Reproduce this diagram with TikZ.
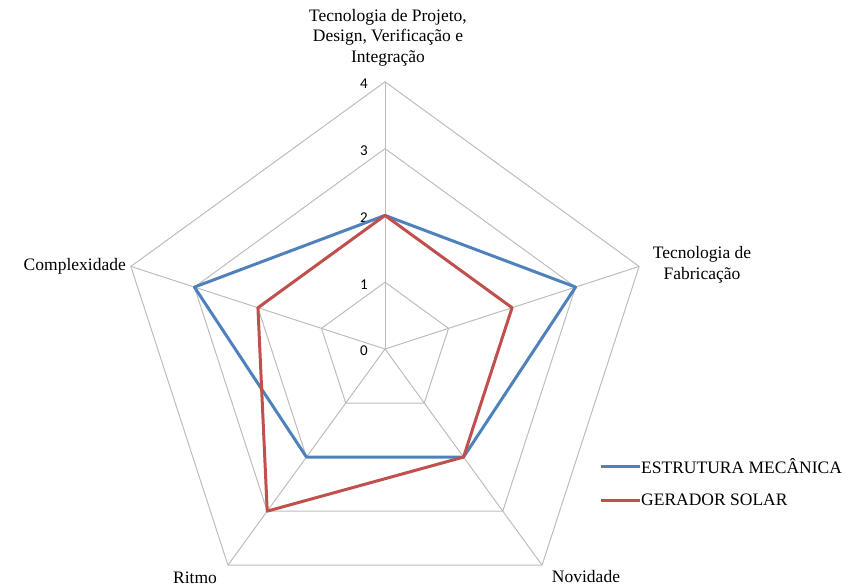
\documentclass[tikz,border=0pt]{standalone}
\usepackage{fontspec}
\usetikzlibrary{calc}
\setmainfont{Liberation Serif}
\newfontfamily\numfont{Carlito}
\definecolor{serA}{HTML}{4F81BD}
\definecolor{serB}{HTML}{C0504D}
\definecolor{gridc}{HTML}{BDBDBD}
\begin{document}
\begin{tikzpicture}[x=1pt,y=1pt,
  gridline/.style={draw=gridc, line width=1pt},
  seriesA/.style={draw=serA, line width=3pt, line join=round},
  seriesB/.style={draw=serB, line width=3pt, line join=round},
  axlabel/.style={font=\fontsize{17.5}{20.5}\selectfont, align=center, inner sep=0pt},
  numlabel/.style={font=\numfont\fontsize{15}{16}\selectfont, inner sep=0pt},
  leglabel/.style={font=\fontsize{17.5}{18}\selectfont, inner sep=0pt, anchor=west}]
\useasboundingbox (0,-587) rectangle (848,0);
\coordinate (c) at (385,-349);
\def\u{66.8}
% grid pentagons
\foreach \k in {1,2,3,4} {
  \draw[gridline] ($(c)+(90:\k*\u)$) -- ($(c)+(18:\k*\u)$) -- ($(c)+(-54:\k*\u)$) -- ($(c)+(-126:\k*\u)$) -- ($(c)+(162:\k*\u)$) -- cycle;
}
\foreach \a/\n in {90/t,18/r,-54/br,-126/bl,162/l} {
  \coordinate (v\n) at ($(c)+(\a:4*\u)$);
  \draw[gridline] (c) -- (v\n);
}
% numbers
\foreach \k in {0,1,2,3,4} {
  \node[numlabel, anchor=east] (n\k) at ($(c)+(-17,\k*\u-2)$) {\k};
}
% series A
\draw[seriesA] ($(c)+(90:2*\u)$) -- ($(c)+(18:3*\u)$) -- ($(c)+(-54:2*\u)$) -- ($(c)+(-126:2*\u)$) -- ($(c)+(162:3*\u)$) -- cycle;
% series B
\draw[seriesB] ($(c)+(90:2*\u)$) -- ($(c)+(18:2*\u)$) -- ($(c)+(-54:2*\u)$) -- ($(c)+(-126:3*\u)$) -- ($(c)+(162:2*\u)$) -- cycle;
% axis labels
\node[axlabel, anchor=south] (lt) at (388,-66) {Tecnologia de Projeto,\\Design, Verificação e\\Integração};
\node[axlabel] (lr) at (702,-265) {Tecnologia de\\Fabricação};
\node[axlabel, anchor=east] (ll) at (126,-266) {Complexidade};
\node[axlabel] (lbl) at (195,-578) {Ritmo};
\node[axlabel] (lbr) at (586,-577) {Novidade};
% legend
\coordinate (a1) at (601,-466);
\coordinate (a2) at (640,-466);
\coordinate (b1) at (601,-500);
\coordinate (b2) at (640,-500);
\draw[seriesA] (a1) -- (a2);
\draw[seriesB] (b1) -- (b2);
\node[leglabel] (la) at (641,-466) {ESTRUTURA MECÂNICA};
\node[leglabel] (lb) at (641,-500) {GERADOR SOLAR};
\end{tikzpicture}
\end{document}
